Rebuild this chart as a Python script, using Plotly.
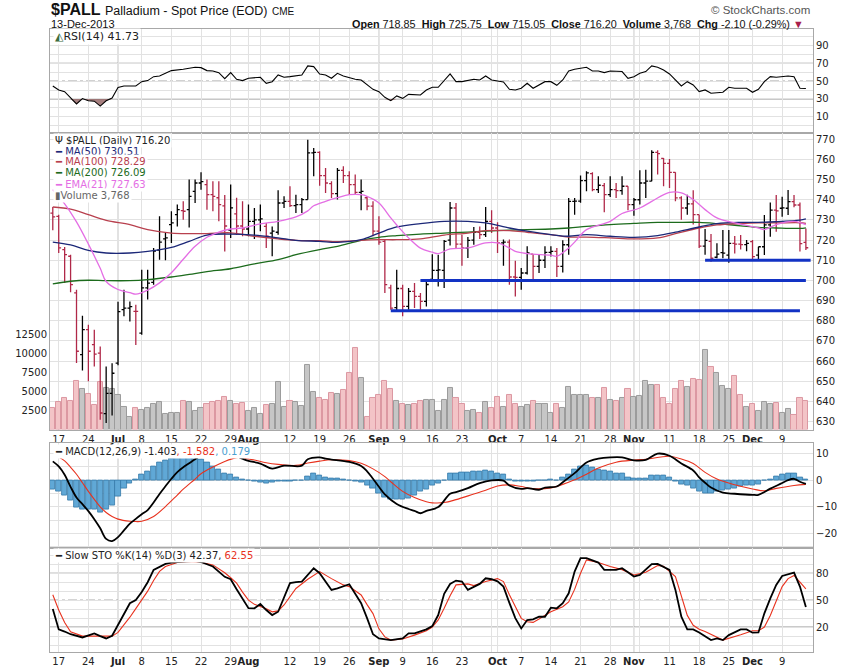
import plotly.graph_objects as go

# ---------------- data (trading-day index 0 = 14-Jun-2013 ... 127 = 13-Dec-2013) ----------------
opens = [733.4, 731.8, 715.3, 712.0, 693.8, 663.2, 675.6, 668.2, 664.0, 634.0,
         644.0, 659.0, 685.5, 686.3, 684.7, 673.9, 696.3, 699.0, 715.0, 720.6,
         727.7, 732.6, 734.6, 735.1, 744.2, 748.3, 747.5, 742.5, 741.0, 737.0,
         725.0, 733.0, 727.0, 725.5, 729.3, 730.0, 726.8, 723.5, 723.9, 738.4,
         739.2, 737.1, 737.6, 740.1, 763.2, 763.5, 752.0, 748.0, 743.0, 754.6,
         752.0, 747.5, 743.7, 741.0, 736.8, 724.4, 719.4, 696.3, 686.5, 696.0,
         687.1, 694.6, 692.1, 689.6, 700.5, 705.0, 705.0, 720.0, 735.9, 718.0,
         716.0, 720.0, 723.9, 722.7, 729.3, 726.0, 718.6, 719.0, 701.7, 701.5,
         703.7, 713.0, 707.0, 710.0, 713.9, 714.4, 707.0, 717.7, 739.2, 739.3,
         749.5, 753.0, 745.0, 747.0, 742.5, 745.0, 744.5, 746.7, 737.6, 740.0,
         748.3, 749.2, 763.5, 760.5, 758.0, 753.6, 740.9, 735.9, 738.0, 732.6,
         717.0, 719.4, 711.5, 713.8, 712.6, 718.4, 718.0, 717.8, 719.2, 712.6,
         716.7, 727.5, 734.9, 735.8, 735.8, 739.1, 737.4, 718.85]
highs = [736.4, 732.6, 716.6, 712.8, 695.4, 682.5, 678.1, 675.6, 667.3, 657.4,
         659.0, 689.5, 695.4, 689.6, 688.0, 705.3, 705.3, 716.1, 731.8, 723.5,
         734.3, 737.6, 739.2, 750.0, 750.0, 753.6, 750.0, 749.2, 749.2, 742.4,
         747.5, 741.0, 739.2, 737.6, 735.9, 737.6, 728.5, 726.8, 744.7, 741.7,
         746.7, 742.5, 740.9, 769.8, 765.7, 764.0, 755.8, 749.2, 755.8, 756.6,
         754.1, 752.5, 750.0, 741.7, 739.2, 731.8, 720.0, 697.9, 705.3, 697.9,
         696.3, 698.7, 693.8, 700.4, 713.0, 712.8, 720.0, 738.9, 738.4, 722.7,
         721.5, 726.5, 726.8, 736.4, 734.8, 728.8, 720.3, 720.3, 709.8, 706.2,
         716.9, 713.1, 712.8, 716.9, 716.9, 716.1, 719.9, 740.9, 740.9, 752.0,
         754.1, 753.6, 751.6, 748.3, 751.6, 748.3, 751.6, 746.7, 740.9, 754.6,
         754.9, 764.5, 764.5, 760.7, 760.2, 753.6, 741.7, 742.5, 744.7, 732.6,
         725.5, 723.0, 718.4, 725.0, 725.0, 722.0, 722.5, 720.0, 720.0, 716.7,
         732.5, 738.6, 742.4, 741.5, 744.8, 742.4, 738.6, 725.75]
lows = [724.9, 713.6, 698.7, 694.1, 659.1, 655.4, 650.0, 657.4, 631.0, 629.3,
        633.0, 658.0, 682.2, 679.7, 668.0, 673.1, 690.5, 697.9, 710.3, 710.0,
        718.6, 726.8, 730.1, 726.3, 738.4, 745.0, 735.1, 734.3, 729.3, 714.3,
        721.1, 722.5, 721.9, 721.9, 720.6, 724.4, 716.1, 712.0, 722.7, 735.9,
        736.4, 733.4, 733.4, 740.1, 751.6, 747.0, 743.4, 740.9, 740.1, 748.3,
        742.5, 742.5, 734.8, 734.8, 721.9, 717.7, 693.8, 685.5, 684.7, 682.2,
        685.5, 686.3, 685.5, 687.1, 700.0, 697.0, 696.3, 717.3, 716.1, 707.3,
        711.1, 717.7, 720.6, 721.5, 723.5, 713.6, 707.3, 697.9, 692.1, 695.4,
        702.9, 700.4, 703.7, 706.2, 711.9, 701.7, 704.0, 712.8, 732.6, 738.5,
        744.2, 744.2, 743.4, 733.8, 741.4, 740.9, 742.5, 734.8, 732.1, 737.6,
        740.9, 749.2, 752.5, 746.7, 745.8, 739.2, 730.1, 732.6, 727.7, 716.1,
        712.8, 709.3, 711.0, 711.0, 708.8, 713.4, 715.4, 714.5, 710.5, 710.5,
        712.6, 721.7, 724.2, 731.6, 732.5, 736.3, 714.3, 715.05]
closes = [731.5, 716.1, 712.8, 697.9, 664.9, 675.6, 664.9, 663.5, 634.3, 644.0,
          654.0, 684.5, 686.3, 687.0, 684.7, 696.3, 698.7, 714.5, 719.0, 721.1,
          728.5, 735.1, 734.3, 741.7, 748.3, 749.0, 742.5, 741.7, 737.6, 727.0,
          736.0, 727.0, 725.5, 729.3, 730.0, 730.5, 721.9, 724.4, 738.4, 739.2,
          737.1, 737.6, 740.1, 763.2, 763.5, 752.0, 748.3, 743.0, 754.6, 752.0,
          747.5, 743.7, 744.2, 736.8, 724.4, 719.0, 697.9, 686.3, 696.0, 687.1,
          694.6, 692.1, 689.6, 698.0, 705.0, 705.2, 719.4, 735.9, 718.0, 716.1,
          719.9, 723.9, 722.7, 729.3, 726.0, 718.6, 719.0, 701.7, 701.5, 703.7,
          713.6, 707.0, 710.0, 713.9, 714.4, 707.0, 717.7, 739.2, 739.3, 749.5,
          753.3, 745.0, 747.2, 742.5, 745.0, 744.5, 746.7, 737.6, 740.0, 748.3,
          749.2, 763.5, 762.9, 758.0, 753.6, 740.9, 735.9, 738.0, 732.6, 717.0,
          719.9, 711.0, 713.0, 713.5, 718.4, 718.0, 717.8, 718.4, 711.8, 716.7,
          727.5, 734.9, 734.5, 736.0, 739.1, 737.4, 718.3, 716.2]
close_before = 736.0  # close of 13-Jun-2013 (colours the first bar)
volume = [2900, 3600, 4100, 3800, 6400, 5300, 4700, 3200, 6200, 5400,
          5300, 4600, 3000, 1600, 2900, 2600, 2900, 3400, 3600, 2100,
          2200, 2200, 3800, 3600, 2400, 2800, 3400, 3600, 3700, 4300,
          3700, 3300, 3500, 2500, 2900, 2000, 3200, 3400, 6200, 3000,
          3700, 3600, 3100, 8500, 5000, 4100, 3900, 4800, 4700, 5200,
          7400, 10700, 6800, 1700, 4200, 4600, 6400, 5300, 3800, 3400,
          3200, 3300, 3700, 3900, 3900, 2500, 3900, 5500, 4100, 3300,
          2400, 2600, 2200, 3600, 2800, 4300, 3000, 4600, 3400, 3000,
          3200, 3800, 3300, 3300, 2200, 3300, 2800, 5600, 4600, 4500,
          4600, 4100, 4100, 5400, 3900, 3700, 4200, 5300, 4300, 4400,
          6400, 5900, 5900, 4100, 3400, 5300, 6400, 5600, 6600, 6500,
          10400, 8200, 7500, 5700, 5300, 7100, 4600, 3000, 3400, 2500,
          3600, 3300, 3500, 2200, 2700, 1900, 4200, 3768]
volume_ticks = [2500, 5000, 7500, 10000, 12500]

ma_idx = [0, 3, 6, 9, 13, 16, 20, 23, 26, 30, 34, 38, 41, 45, 48, 52, 55, 58, 62, 66,
          70, 73, 77, 80, 84, 87, 90, 94, 98, 102, 105, 109, 112, 116, 119, 122, 126, 127]
ma50 = [719.0, 717.6, 714.9, 713.6, 713.6, 714.4, 716.4, 719.4, 722.5, 723.0,
        722.5, 721.1, 719.9, 719.4, 718.9, 720.2, 723.5, 726.5, 728.2, 729.3,
        729.3, 728.5, 726.0, 724.4, 722.7, 721.9, 722.7, 721.9, 721.4, 722.2,
        723.9, 726.5, 728.2, 728.8, 728.8, 729.1, 729.9, 730.51]
ma100 = [736.4, 735.4, 732.6, 729.8, 727.7, 725.2, 723.5, 723.2, 723.2, 723.6,
         721.9, 720.6, 719.9, 719.7, 719.2, 719.9, 720.2, 720.2, 720.6, 722.5,
         723.5, 724.7, 724.7, 723.9, 722.7, 721.5, 721.5, 721.1, 720.6, 721.1,
         723.2, 726.0, 727.5, 728.2, 728.5, 728.5, 728.6, 728.29]
ma200 = [698.3, 699.6, 700.1, 699.9, 699.9, 700.4, 701.7, 703.0, 704.4, 705.8,
         708.2, 710.3, 712.8, 715.3, 716.9, 719.9, 721.4, 722.2, 723.0, 723.5,
         724.0, 724.4, 724.9, 725.2, 725.5, 726.0, 726.8, 727.7, 728.3, 728.8,
         728.8, 728.8, 728.2, 727.1, 726.3, 726.0, 725.8, 726.09]
ema_idx = [0, 2, 4, 6, 8, 9, 11, 13, 14, 16, 18, 20, 22, 24, 26, 28, 30, 32, 35, 38,
           41, 43, 44, 46, 48, 50, 52, 53, 55, 57, 58, 60, 62, 64, 65, 67, 70, 73, 75, 77,
           78, 80, 84, 85, 87, 88, 90, 94, 96, 99, 101, 104, 106, 108, 110, 112, 115, 119, 120, 122,
           125, 127]
ema21 = [745.0, 738.0, 729.0, 718.0, 706.0, 699.5, 695.5, 694.0, 693.2, 695.2,
         698.8, 703.8, 710.5, 716.9, 721.4, 724.0, 725.5, 726.0, 728.0, 729.3,
         731.5, 734.5, 737.0, 739.2, 741.0, 742.5, 742.5, 741.7, 738.4, 731.0,
         727.5, 721.1, 716.0, 714.0, 713.3, 715.6, 716.1, 718.6, 718.6, 716.1,
         714.4, 713.3, 712.5, 712.0, 716.1, 719.0, 725.2, 729.3, 733.2, 735.9,
         739.2, 743.7, 743.4, 740.1, 735.1, 731.0, 728.5, 726.0, 725.2, 727.7,
         729.3, 727.63]

support_level = [685, 700, 710]
support_start = [57, 62, 110]
support_end = [126, 127, 127.8]

rsi_idx = [0, 1, 2, 3, 4, 5, 6, 7, 8, 9, 10, 11, 12, 14, 15, 16, 17, 18, 20, 22,
           24, 25, 26, 27, 28, 29, 30, 31, 32, 33, 35, 36, 37, 38, 39, 40, 42, 43, 44, 45,
           46, 47, 48, 49, 51, 52, 53, 54, 55, 56, 57, 58, 59, 60, 62, 63, 64, 65, 67, 68,
           69, 71, 72, 73, 74, 76, 77, 78, 79, 80, 81, 82, 83, 84, 85, 86, 87, 88, 90, 91,
           92, 93, 94, 96, 97, 98, 99, 100, 101, 102, 103, 104, 105, 106, 107, 108, 109, 110, 111, 113,
           114, 115, 117, 118, 119, 120, 121, 122, 124, 125, 126, 127]
rsi = [44.5, 40.1, 38.2, 31.5, 24.4, 30.5, 28.0, 27.5, 22.0, 28.0,
       31.0, 43.0, 44.6, 44.6, 49.4, 50.6, 55.0, 55.8, 61.8, 63.3,
       65.5, 65.1, 61.8, 61.4, 59.5, 52.8, 59.5, 52.1, 50.6, 53.2,
       54.3, 47.6, 49.4, 56.9, 54.3, 55.0, 56.9, 67.0, 66.3, 58.0,
       56.9, 53.2, 58.8, 55.8, 52.1, 51.3, 45.7, 40.8, 38.2, 31.9,
       28.1, 33.4, 30.7, 35.2, 34.5, 40.1, 43.1, 43.1, 58.0, 49.4,
       49.4, 52.1, 51.3, 55.8, 51.3, 49.1, 40.8, 40.1, 42.0, 47.6,
       42.0, 45.7, 49.4, 49.4, 45.3, 51.3, 61.4, 63.3, 65.5, 61.4,
       61.4, 59.5, 61.4, 60.7, 53.2, 55.0, 58.8, 60.7, 67.0, 65.5,
       62.5, 58.0, 51.3, 44.6, 49.4, 45.7, 38.2, 40.1, 36.4, 37.5,
       43.1, 42.0, 42.0, 37.5, 40.8, 49.4, 55.0, 54.3, 55.8, 55.0,
       42.0, 41.73]

macd_idx = [0, 1, 2, 3, 4, 5, 6, 7, 8, 9, 10, 11, 12, 13, 14, 15, 16, 17, 18, 19,
            20, 21, 22, 23, 24, 25, 27, 29, 31, 32, 33, 35, 37, 39, 42, 43, 45, 46, 47, 50,
            52, 53, 54, 55, 56, 58, 60, 61, 62, 63, 65, 67, 68, 70, 72, 74, 76, 77, 79, 80,
            82, 83, 85, 86, 88, 90, 92, 94, 96, 98, 100, 102, 104, 106, 108, 109, 110, 111, 113, 115,
            118, 119, 121, 123, 124, 125, 126, 127]
macd = [7.0, 5.1, 2.0, -2.5, -6.5, -9.0, -11.6, -14.6, -18.0, -22.0,
        -22.8, -21.3, -18.8, -16.3, -14.5, -12.8, -11.2, -8.4, -5.2, -2.3,
        0.5, 3.0, 4.8, 6.3, 7.8, 9.2, 10.3, 10.4, 9.0, 8.0,
        7.2, 6.2, 4.3, 5.4, 5.4, 7.8, 8.5, 8.0, 7.7, 6.8,
        5.3, 3.3, 0.5, -2.5, -5.3, -8.9, -10.8, -11.5, -12.4, -11.5,
        -10.1, -5.1, -4.5, -3.0, -1.1, -0.1, -0.2, -2.0, -3.3, -3.0,
        -3.6, -2.8, -2.4, -0.8, 2.6, 6.6, 8.0, 8.5, 8.5, 7.4,
        7.6, 9.9, 9.1, 6.2, 3.6, 1.0, -1.0, -2.8, -4.7, -5.1,
        -5.5, -5.5, -3.2, -1.1, 0.0, 0.5, -0.6, -1.403]
sig_idx = [1, 2, 3, 4, 5, 6, 7, 8, 9, 10, 11, 13, 14, 15, 17, 19, 21, 22, 24, 25,
           27, 29, 31, 32, 34, 36, 38, 41, 43, 45, 47, 50, 52, 54, 56, 57, 59, 61, 63, 64,
           66, 68, 71, 73, 75, 77, 79, 81, 84, 86, 88, 90, 92, 95, 98, 100, 104, 106, 108, 110,
           112, 115, 118, 120, 122, 125, 127]
signal = [8.6, 7.2, 4.8, 2.2, -1.0, -4.2, -7.2, -10.0, -12.1, -13.6,
          -14.6, -15.4, -15.5, -15.4, -13.6, -9.9, -5.6, -3.4, 0.4, 2.4,
          4.9, 7.0, 8.4, 8.3, 7.5, 6.5, 5.9, 5.5, 6.4, 7.1,
          7.6, 7.3, 6.3, 4.2, 1.3, -0.6, -4.2, -6.5, -8.1, -8.5,
          -8.4, -7.3, -5.2, -3.8, -2.2, -1.8, -2.4, -3.2, -2.9, -1.6,
          0.1, 2.2, 4.5, 6.7, 7.5, 7.8, 8.9, 7.9, 6.2, 2.9,
          0.4, -1.75, -3.3, -4.0, -3.1, -2.0, -1.582]
hist = [-3.4, -4.25, -5.9, -7.6, -10.1, -10.9, -10.9, -11.1, -12.0, -11.1,
        -9.6, -6.1, -3.0, -1.1, 0.4, 2.0, 3.25, 5.1, 6.6, 7.4,
        8.0, 8.6, 8.9, 8.9, 8.6, 7.9, 6.6, 5.1, 3.9, 2.4,
        2.0, 1.0, 0.1, -0.3, -0.6, -0.9, -1.2, -0.9, -0.5, -0.4,
        -0.4, -0.3, -0.2, 1.4, 2.4, 1.9, 1.1, 0.6, 0.75, 0.4,
        0.0, -0.4, -0.9, -1.9, -3.0, -5.1, -6.4, -7.1, -7.4, -7.4,
        -6.75, -5.9, -4.25, -3.4, -2.1, -1.1, -0.1, 2.6, 2.6, 2.9,
        3.0, 3.25, 3.25, 3.6, 3.25, 2.6, 2.0, 0.4, -0.5, -0.6,
        -0.4, -0.6, -0.25, 0.0, 0.25, 0.0, 0.9, 2.25, 3.9, 5.1,
        5.4, 4.6, 4.1, 3.6, 3.25, 2.6, 2.4, 1.0, 0.5, 0.75,
        0.5, 1.6, 1.6, 1.6, 1.0, -0.6, -1.5, -2.1, -3.0, -4.25,
        -5.1, -5.1, -4.25, -3.9, -3.4, -3.0, -2.4, -2.1, -2.1, -1.75,
        -0.1, 0.4, 1.4, 2.0, 2.6, 2.6, 1.1, 0.179]

k_idx = [0, 1, 2, 3, 5, 6, 7, 8, 9, 10, 11, 12, 13, 14, 15, 16, 17, 19, 20, 22,
         24, 25, 27, 29, 30, 31, 32, 33, 34, 35, 36, 37, 38, 40, 41, 42, 44, 45, 47, 48,
         50, 52, 53, 54, 55, 57, 59, 60, 61, 63, 64, 65, 66, 67, 68, 69, 70, 71, 72, 73,
         74, 75, 76, 77, 78, 79, 80, 81, 82, 83, 84, 85, 86, 87, 88, 89, 90, 92, 93, 95,
         96, 97, 98, 99, 101, 102, 104, 105, 106, 107, 108, 109, 110, 111, 112, 113, 114, 115, 116, 117,
         118, 119, 120, 121, 122, 123, 125, 126, 127]
stok = [40.0, 17.4, 15.0, 12.0, 8.4, 11.0, 12.9, 9.9, 7.3, 10.3,
        22.0, 35.0, 46.5, 50.2, 59.0, 70.0, 83.7, 90.4, 91.9, 93.0,
        93.8, 92.5, 87.5, 76.0, 73.3, 62.1, 52.0, 41.0, 40.9, 45.7,
        39.0, 33.4, 37.1, 69.0, 70.0, 70.7, 85.6, 80.0, 61.4, 63.2,
        67.7, 46.5, 30.0, 12.0, 7.3, 5.5, 7.3, 12.9, 12.9, 17.4,
        21.1, 33.4, 57.0, 68.0, 71.8, 70.7, 61.4, 65.1, 68.1, 74.4,
        73.3, 71.0, 65.1, 47.0, 30.0, 18.5, 27.8, 28.6, 31.5, 31.5,
        41.6, 40.9, 46.5, 57.6, 81.9, 96.8, 96.8, 91.9, 83.7, 83.7,
        85.6, 81.1, 76.3, 78.1, 90.1, 90.4, 83.7, 61.4, 31.5, 17.4,
        17.4, 14.0, 10.0, 5.5, 7.3, 5.5, 11.0, 14.0, 17.4, 17.4,
        13.7, 14.0, 35.3, 52.0, 67.0, 77.0, 80.7, 65.1, 42.37]
d_idx = [0, 1, 2, 3, 5, 8, 10, 11, 12, 13, 14, 15, 16, 17, 18, 19, 21, 23, 25, 27,
         29, 30, 31, 32, 33, 34, 36, 37, 38, 39, 41, 43, 45, 47, 49, 50, 52, 53, 54, 55,
         56, 57, 59, 61, 63, 64, 65, 66, 67, 68, 70, 71, 73, 75, 76, 77, 78, 79, 80, 81,
         82, 84, 86, 87, 88, 89, 90, 92, 94, 96, 98, 100, 102, 103, 105, 106, 107, 108, 109, 110,
         112, 113, 116, 118, 119, 120, 121, 122, 123, 124, 125, 126, 127]
stod = [56.0, 39.0, 25.0, 14.8, 9.9, 9.9, 9.9, 14.0, 22.2, 31.0,
        40.5, 50.0, 60.0, 72.0, 82.0, 87.5, 91.9, 93.0, 92.3, 89.3,
        80.5, 75.0, 69.0, 59.0, 50.0, 45.3, 40.5, 37.0, 38.0, 44.6,
        63.0, 73.3, 81.9, 74.0, 67.0, 65.1, 55.8, 45.0, 35.0, 18.0,
        9.0, 5.5, 6.8, 11.0, 15.9, 20.0, 28.0, 40.9, 55.0, 67.0,
        68.1, 66.2, 70.7, 74.0, 70.7, 56.0, 42.0, 29.7, 26.0, 25.2,
        29.0, 37.1, 42.7, 48.0, 62.0, 80.0, 94.9, 91.9, 87.5, 84.0,
        78.1, 81.0, 88.6, 87.8, 76.3, 55.0, 33.0, 22.0, 17.5, 15.0,
        9.2, 5.5, 11.5, 15.9, 15.9, 20.0, 33.0, 50.0, 65.1, 74.0,
        77.5, 70.0, 62.55]

grid_idx = [1, 6, 11, 15, 20, 25, 30, 33, 35, 40, 45, 50, 55, 59, 64, 69, 74, 75, 79, 84,
            89, 94, 98, 99, 104, 109, 114, 118, 123]
grid_txt = ["17", "24", "<b>Jul</b>", "8", "15", "22", "29", "<b>Aug</b>", "", "12", "19", "26",
            "<b>Sep</b>", "9", "16", "23", "", "<b>Oct</b>", "7", "14", "21", "28", "<b>Nov</b>", "",
            "11", "18", "25", "<b>Dec</b>", "9"]
month_idx = [11, 33, 55, 75, 98, 118]

# ---------------- styling ----------------
UP = "#000000"
DOWN = "#b02848"
GRID = "#e2e2e2"
FRAME = "#a8a8a8"
TICKFONT = dict(family="DejaVu Sans", size=10, color="#222222")
n = len(closes)
prev = [close_before] + closes[:-1]
is_up = [closes[i] >= prev[i] for i in range(n)]
X = list(range(n))

fig = go.Figure()

# ---- RSI panel ----
fig.add_trace(go.Scatter(x=rsi_idx, y=[30] * len(rsi), mode="lines", line=dict(width=0),
                         xaxis="x", yaxis="y", hoverinfo="skip"))
fig.add_trace(go.Scatter(x=rsi_idx, y=[min(v, 30) for v in rsi], mode="lines", line=dict(width=0),
                         fill="tonexty", fillcolor="rgba(150,105,105,0.85)", xaxis="x", yaxis="y",
                         hoverinfo="skip"))
fig.add_trace(go.Scatter(x=rsi_idx, y=rsi, mode="lines", line=dict(color="black", width=1.1),
                         xaxis="x", yaxis="y"))

# ---- volume (base axis of price panel) ----
fig.add_trace(go.Bar(x=X, y=volume, width=0.86,
                     marker=dict(color=["#c6c6c6" if u else "#f3c4c7" for u in is_up],
                                 line=dict(color=["#9c9c9c" if u else "#dc98a2" for u in is_up], width=1)),
                     xaxis="x2", yaxis="y2"))

# ---- moving averages ----
fig.add_trace(go.Scatter(x=ma_idx, y=ma200, mode="lines", line=dict(color="#1c6b1c", width=1.3, shape="spline"),
                         xaxis="x2", yaxis="y3"))
fig.add_trace(go.Scatter(x=ma_idx, y=ma100, mode="lines", line=dict(color="#b8404e", width=1.3, shape="spline"),
                         xaxis="x2", yaxis="y3"))
fig.add_trace(go.Scatter(x=ma_idx, y=ma50, mode="lines", line=dict(color="#1c2878", width=1.3, shape="spline"),
                         xaxis="x2", yaxis="y3"))
fig.add_trace(go.Scatter(x=ema_idx, y=ema21, mode="lines", line=dict(color="#e46ee4", width=1.3, shape="spline"),
                         xaxis="x2", yaxis="y3"))

# ---- OHLC bars: coloured by change vs previous close ----
for flag, col in ((True, UP), (False, DOWN)):
    sel = [i for i in range(n) if is_up[i] == flag]
    fig.add_trace(go.Ohlc(x=sel, open=[opens[i] for i in sel], high=[highs[i] for i in sel],
                          low=[lows[i] for i in sel], close=[closes[i] for i in sel],
                          increasing=dict(line=dict(color=col, width=1.3)),
                          decreasing=dict(line=dict(color=col, width=1.3)),
                          tickwidth=0.4, xaxis="x2", yaxis="y3"))

# ---- hand-drawn support lines ----
for lvl, s, e in zip(support_level, support_start, support_end):
    fig.add_trace(go.Scatter(x=[s, e], y=[lvl, lvl], mode="lines", line=dict(color="#1232c4", width=3),
                             xaxis="x2", yaxis="y3"))

# ---- MACD panel ----
fig.add_trace(go.Bar(x=X, y=hist, width=0.86,
                     marker=dict(color="#60a8d6", line=dict(color="#3478a8", width=0.8)),
                     xaxis="x3", yaxis="y4"))
fig.add_trace(go.Scatter(x=sig_idx, y=signal, mode="lines", line=dict(color="#e8321e", width=1.1, shape="spline"),
                         xaxis="x3", yaxis="y4"))
fig.add_trace(go.Scatter(x=macd_idx, y=macd, mode="lines", line=dict(color="black", width=1.8, shape="spline"),
                         xaxis="x3", yaxis="y4"))

# ---- Slow stochastic panel ----
fig.add_trace(go.Scatter(x=d_idx, y=stod, mode="lines", line=dict(color="#e8321e", width=1.1),
                         xaxis="x4", yaxis="y5"))
fig.add_trace(go.Scatter(x=k_idx, y=stok, mode="lines", line=dict(color="black", width=1.8),
                         xaxis="x4", yaxis="y5"))

# ---------------- layout ----------------
xr = [-0.47, 128.2]
xcommon = dict(range=xr, tickmode="array", tickvals=grid_idx, ticktext=grid_txt, showgrid=True,
               gridcolor=GRID, zeroline=False, showline=True, mirror=True, linecolor=FRAME,
               ticks="", ticklen=0, tickangle=0, tickfont=TICKFONT, rangeslider=dict(visible=False),
               fixedrange=True, automargin=False)
ycommon = dict(zeroline=False, showline=True, mirror=True, linecolor=FRAME, ticks="", ticklen=0,
               tickfont=TICKFONT, gridcolor=GRID, fixedrange=True, automargin=False)

D_RSI = [0.8331, 1.0]
D_PRICE = [0.3571, 0.8331]
D_MACD = [0.1669, 0.3347]
D_STO = [0.0, 0.1669]

fig.update_layout(
    template="none",
    width=850, height=668,
    margin=dict(l=50, r=37, t=29, b=16, autoexpand=False),
    paper_bgcolor="white", plot_bgcolor="white",
    showlegend=False, hovermode=False, bargap=0,
    xaxis=dict(xcommon, anchor="y", showticklabels=False),
    xaxis2=dict(xcommon, anchor="y2", matches="x", showticklabels=True),
    xaxis3=dict(xcommon, anchor="y4", matches="x", showticklabels=False),
    xaxis4=dict(xcommon, anchor="y5", matches="x", showticklabels=True),
    yaxis=dict(ycommon, domain=D_RSI, range=[-8.1, 108.4], side="right", tick0=10, dtick=20,
               showgrid=True, minor=dict(tick0=0, dtick=10, showgrid=True, gridcolor=GRID)),
    yaxis2=dict(ycommon, domain=D_PRICE, range=[0, 39000], side="left", tickmode="array",
                tickvals=volume_ticks, ticktext=[str(v) for v in volume_ticks], showgrid=False),
    yaxis3=dict(ycommon, overlaying="y2", side="right", range=[626.1, 773.1], tick0=630, dtick=10,
                showgrid=True),
    yaxis4=dict(ycommon, domain=D_MACD, range=[-25.4, 13.7], side="right", tick0=0, dtick=10,
                showgrid=True, minor=dict(tick0=0, dtick=5, showgrid=True, gridcolor=GRID)),
    yaxis5=dict(ycommon, domain=D_STO, range=[-7.8, 108.1], side="right", tick0=20, dtick=30,
                showgrid=True, minor=dict(tick0=0, dtick=10, showgrid=True, gridcolor=GRID)),
)

shapes = []
for ref in ("y domain", "y2 domain", "y4 domain", "y5 domain"):
    for m in month_idx:
        shapes.append(dict(type="line", xref="x", yref=ref, x0=m, x1=m, y0=0, y1=1,
                           line=dict(color="#c4c4c4", width=1), layer="below"))
for ref, lvls in (("y", (70, 50, 30)), ("y5", (80, 50, 20))):
    for lv in lvls:
        shapes.append(dict(type="line", xref="x domain", yref=ref, x0=0, x1=1, y0=lv, y1=lv,
                           line=dict(color="#8a8a8a", width=1, dash="dashdot" if lv == 50 else "solid"),
                           layer="below"))
fig.update_layout(shapes=shapes)


def py(pix):
    return (652 - pix) / 623.0


def px(pix):
    return (pix - 50) / 763.0


chg = closes[-1] - closes[-2]
pct = chg / closes[-2] * 100
ann = []
ann.append(dict(x=px(49), y=py(10), xref="paper", yref="paper", xanchor="left", yanchor="middle", showarrow=False,
                text="<b>$PALL</b> <span style='font-size:12.5px'>Palladium - Spot Price (EOD)</span>"
                     " <span style='font-size:10px'>CME</span>",
                font=dict(family="Liberation Sans", size=16, color="#111")))
ann.append(dict(x=px(49), y=py(24), xref="paper", yref="paper", xanchor="left", yanchor="middle", showarrow=False,
                text="13-Dec-2013", font=dict(family="Liberation Sans", size=11, color="#111")))
ann.append(dict(x=px(806), y=py(24), xref="paper", yref="paper", xanchor="right", yanchor="middle",
                showarrow=False,
                text=(f"<b>Open</b> {opens[-1]:.2f}  <b>High</b> {highs[-1]:.2f}  <b>Low</b> {lows[-1]:.2f}  "
                      f"<b>Close</b> {closes[-1]:.2f}  <b>Volume</b> {volume[-1]:,}  "
                      f"<b>Chg</b> {chg:.2f} ({pct:.2f}%) <span style='color:#a8204a'>▼</span>"),
                font=dict(family="Liberation Sans", size=10.8, color="#111")))
ann.append(dict(x=px(812), y=py(10), xref="paper", yref="paper", xanchor="right", yanchor="middle",
                showarrow=False, text="© StockCharts.com",
                font=dict(family="Liberation Sans", size=11.5, color="#555")))

LEG = dict(family="DejaVu Sans", size=10, color="#222")


def legend(ypix, text, size=10):
    return dict(x=px(53), y=py(ypix), xref="paper", yref="paper", xanchor="left", yanchor="middle",
                showarrow=False, text=text, bgcolor="white", borderpad=1,
                font=dict(LEG, size=size))


ann.append(legend(36, f"<span style='color:#3d6b3d'>◭</span>RSI(14) {rsi[-1]:.2f}", 11))
ann.append(legend(140, f"Ψ $PALL (Daily) {closes[-1]:.2f}"))
ann.append(legend(151, f"<span style='color:#1c2878'>━ MA(50) {ma50[-1]:.2f}</span>"))
ann.append(legend(162, f"<span style='color:#b8404e'>━ MA(100) {ma100[-1]:.2f}</span>"))
ann.append(legend(173, f"<span style='color:#1c6b1c'>━ MA(200) {ma200[-1]:.2f}</span>"))
ann.append(legend(184, f"<span style='color:#e46ee4'>━ EMA(21) {ema21[-1]:.2f}</span>"))
ann.append(legend(195, f"<span style='color:#666'>▮Volume {volume[-1]:,}</span>"))
ann.append(legend(452, f"━ MACD(12,26,9) {macd[-1]:.3f}<span style='color:#e8321e'>, {signal[-1]:.3f}</span>"
                       f"<span style='color:#4aa0d0'>, {hist[-1]:.3f}</span>"))
ann.append(legend(555, f"━ Slow STO %K(14) %D(3) {stok[-1]:.2f}, <span style='color:#e8321e'>{stod[-1]:.2f}</span>"))
fig.update_layout(annotations=ann)

fig.write_html("out.html", config={"displayModeBar": False},
               post_script="document.body.style.margin='0px';")
